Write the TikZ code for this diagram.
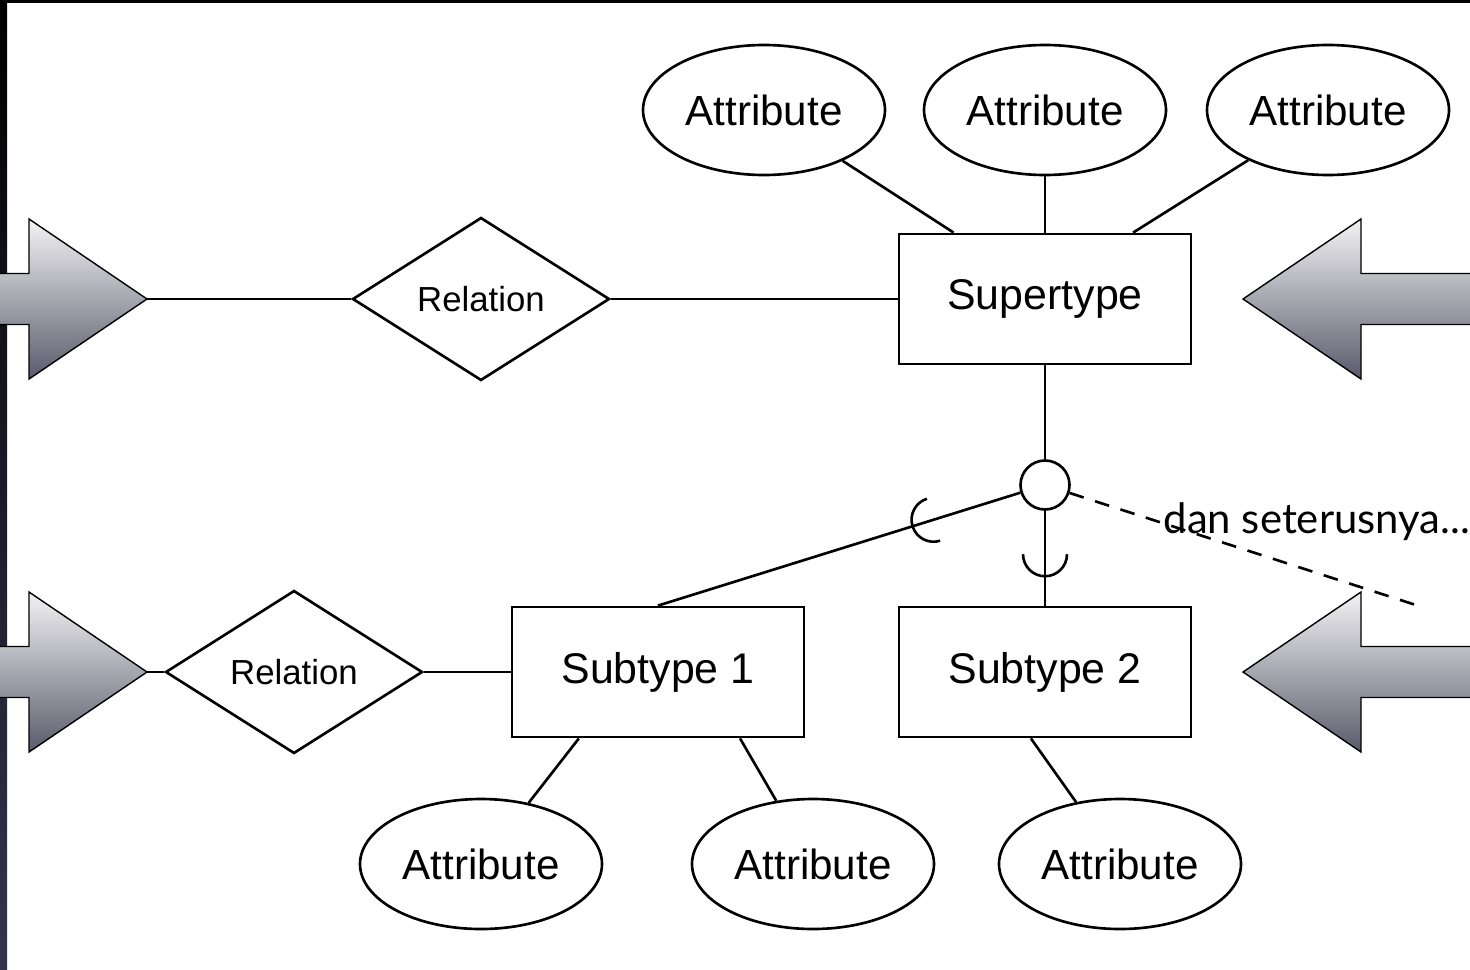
\documentclass[tikz,border=0pt]{standalone}
\usepackage{fontspec}
\setmainfont{Liberation Sans}
\newfontfamily\notefont{Lato}
\usetikzlibrary{calc,shapes.geometric}
\definecolor{arrowtop}{HTML}{F3F3F5}
\definecolor{arrowbot}{HTML}{5A5A6B}
\definecolor{stripbot}{HTML}{34344E}
\tikzset{
  attr/.style={draw,ellipse,line width=.75pt,minimum width=2.42cm,
    minimum height=1.30cm,inner sep=0pt,font=\fontsize{12}{14}\selectfont},
  ent/.style={draw,rectangle,line width=.8pt,minimum width=2.92cm,
    minimum height=1.30cm,inner sep=0pt,font=\fontsize{12.2}{14}\selectfont},
  rel/.style={draw,diamond,line width=.75pt,minimum width=2.57cm,
    minimum height=1.63cm,inner sep=0pt,font=\fontsize{9.9}{12}\selectfont},
  link/.style={line width=.75pt},
  bigarrow/.style={draw=black,line width=.4pt,top color=arrowtop,
    bottom color=arrowbot},
}
% fat block arrow, tip at #1, xscale #2 (1 = right, -1 = left)
\newcommand*{\fatarrow}[2]{%
  \shade[bigarrow,shift={(#1)},xscale=#2] (0,0) -- (-1.18,0.80) --
    (-1.18,0.255) -- (-2.40,0.255) -- (-2.40,-0.255) -- (-1.18,-0.255) --
    (-1.18,-0.80) -- cycle;}

\begin{document}
\begin{tikzpicture}

\useasboundingbox (0,0) rectangle (14.7,9.69);

% Frame
\fill[black] (0,9.66) rectangle (14.7,9.69);
\shade[top color=black,bottom color=stripbot] (0,0) rectangle (0.07,9.69);

% Supertype
\node[ent] (SUP) at (10.45,6.70) {Supertype};
\node[attr] (AT1) at (7.64,8.59) {Attribute};
\node[attr] (AT2) at (10.45,8.59) {Attribute};
\node[attr] (AT3) at (13.28,8.59) {Attribute};
\node[rel] (REL1) at (4.81,6.70) {Relation};

% Subtypes
\node[ent] (SUB1) at (6.58,2.97) {Subtype 1};
\node[ent] (SUB2) at (10.45,2.97) {Subtype 2};
\node[rel] (REL2) at (2.94,2.97) {Relation};
\node[attr] (AB1) at (4.81,1.05) {Attribute};
\node[attr] (AB2) at (8.13,1.05) {Attribute};
\node[attr] (AB3) at (11.20,1.05) {Attribute};

% Specialisation circle
\node[draw,circle,line width=.75pt,minimum size=0.49cm,inner sep=0pt]
  (ISA) at (10.45,4.84) {};
\coordinate (ETC) at (14.22,3.62);
\node[font=\notefont\fontsize{11.9}{14}\selectfont,anchor=base west,
  inner sep=0pt] (NOTE) at (11.63,4.36) {dan seterusnya...};

% Arrow tips
\coordinate (LT1) at (1.47,6.70);
\coordinate (LT2) at (1.47,2.97);
\coordinate (RT1) at (12.43,6.70);
\coordinate (RT2) at (12.43,2.97);

% Subset marks
\coordinate (CUP1) at ($(SUB1.north)!0.712!(ISA)$);
\coordinate (CUP2) at ($(SUB2.north)!0.426!(ISA)$);

\fatarrow{LT1}{1}
\fatarrow{LT2}{1}
\fatarrow{RT1}{-1}
\fatarrow{RT2}{-1}

\draw[link] (LT1) -- (REL1);
\draw[link] (REL1) -- (SUP);
\draw[link] (LT2) -- (REL2);
\draw[link] (REL2) -- (SUB1);

\draw[link] (SUP.144) -- (AT1);
\draw[link] (SUP) -- (AT2);
\draw[link] (SUP.37) -- (AT3);

\draw[link] (SUB1.220) -- (AB1);
\draw[link] (SUB1.321) -- (AB2);
\draw[link] (SUB2.258) -- (AB3);

\draw[link] (SUP) -- (ISA);
\draw[link] (ISA) -- (SUB2);
\draw[link] (ISA) -- (SUB1.north);
\draw[link,dash pattern=on 4.2pt off 3.4pt] (ISA) -- (ETC);

\draw[link] ($(CUP1)+(107.5:0.22)$) arc (107.5:287.5:0.22);
\draw[link] ($(CUP2)+(180:0.22)$) arc (180:360:0.22);

\end{tikzpicture}
\end{document}
